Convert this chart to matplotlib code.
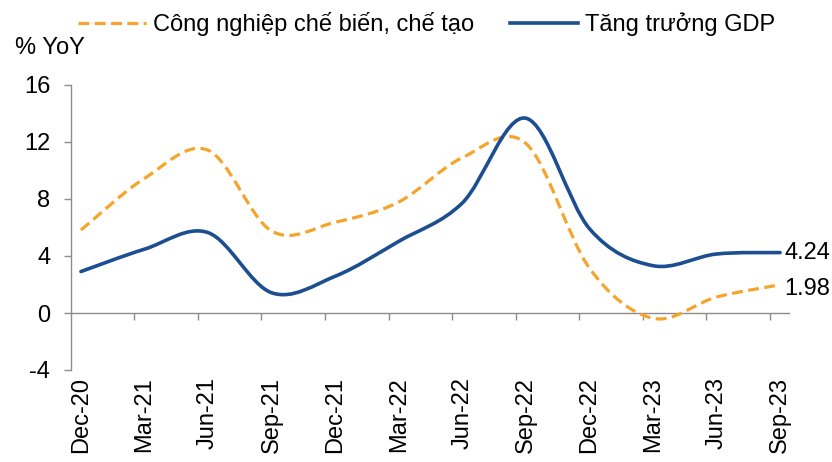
import numpy as np
import matplotlib
matplotlib.use("Agg")
import matplotlib.pyplot as plt
from matplotlib.path import Path
from matplotlib.patches import PathPatch
from matplotlib.lines import Line2D

quarters = ['Dec-20', 'Mar-21', 'Jun-21', 'Sep-21', 'Dec-21', 'Mar-22',
            'Jun-22', 'Sep-22', 'Dec-22', 'Mar-23', 'Jun-23', 'Sep-23']
manufacturing = [5.82, 9.45, 11.42, 5.75, 6.37, 7.79, 10.9, 11.9, 3.15, -0.37, 1.12, 1.98]
gdp = [2.91, 4.48, 5.64, 1.42, 2.58, 5.03, 7.72, 13.67, 5.92, 3.32, 4.14, 4.24]
names = ['Công nghiệp chế biến, chế tạo', 'Tăng trưởng GDP']
yticks = [-4, 0, 4, 8, 12, 16]

orange = '#F5A52C'
blue = '#1C4E91'
grey = '#8C8C8C'
fs = 17

plt.rcParams['font.family'] = ['Liberation Sans', 'DejaVu Sans']


def smooth_path(y):
    # excel-like smoothed line: cubic bezier with catmull-rom control points
    x = np.arange(len(y), dtype=float)
    y = np.asarray(y, dtype=float)
    verts = [(x[0], y[0])]
    codes = [Path.MOVETO]
    n = len(y)
    for i in range(n - 1):
        x0, y0 = (x[i - 1], y[i - 1]) if i > 0 else (x[i], y[i])
        x3, y3 = (x[i + 2], y[i + 2]) if i + 2 < n else (x[i + 1], y[i + 1])
        c1 = (x[i] + (x[i + 1] - x0) / 6, y[i] + (y[i + 1] - y0) / 6)
        c2 = (x[i + 1] - (x3 - x[i]) / 6, y[i + 1] - (y3 - y[i]) / 6)
        verts += [c1, c2, (x[i + 1], y[i + 1])]
        codes += [Path.CURVE4] * 3
    return Path(verts, codes)


fig = plt.figure(figsize=(8.32, 4.62), dpi=100)
ax = fig.add_axes([71 / 832, 1 - 370 / 462, 718 / 832, 285 / 462])

x = np.arange(len(quarters))
ax.add_patch(PathPatch(smooth_path(manufacturing), fill=False, edgecolor=orange,
                       linewidth=2.3, linestyle=(0, (3.4, 1.7)), capstyle='butt'))
ax.add_patch(PathPatch(smooth_path(gdp), fill=False, edgecolor=blue,
                       linewidth=2.6, capstyle='round'))

ax.set_xlim(-0.157, len(quarters) - 1 + 0.14)
ax.set_ylim(-4, 16)
ax.set_yticks(yticks)
ax.set_yticklabels([str(v) for v in yticks], fontsize=fs)
ax.tick_params(axis='y', length=5, width=1, color=grey, pad=10)

# category labels at bottom, no tick marks
ax.set_xticks(x)
ax.set_xticklabels(quarters, rotation=90, fontsize=fs, va='top', ha='center')
ax.tick_params(axis='x', length=0, pad=5)

for s in ['top', 'right', 'bottom']:
    ax.spines[s].set_visible(False)
ax.spines['left'].set_color(grey)
ax.spines['left'].set_linewidth(1)

# zero line axis with tick marks between categories
sec = ax.secondary_xaxis(4 / 20)
sec.set_xticks(x - 0.16)
sec.set_xticklabels([])
sec.tick_params(axis='x', length=5, width=1, color=grey, direction='out')
sec.spines['bottom'].set_color(grey)
sec.spines['bottom'].set_linewidth(1)

ax.annotate(f'{gdp[-1]:.2f}', (x[-1], gdp[-1]), xytext=(3, 0), textcoords='offset points',
            fontsize=fs, va='center', ha='left', annotation_clip=False)
ax.annotate(f'{manufacturing[-1]:.2f}', (x[-1], manufacturing[-1]), xytext=(3, -3),
            textcoords='offset points', fontsize=fs, va='center', ha='left',
            annotation_clip=False)

fig.text(15 / 832, 1 - 48 / 462, '% YoY', fontsize=fs, va='center', ha='left')

handles = [Line2D([], [], color=orange, linewidth=2.3, linestyle=(0, (3.4, 1.7))),
           Line2D([], [], color=blue, linewidth=2.6)]
fig.legend(handles, names, loc='center left', bbox_to_anchor=(78 / 832, 1 - 24 / 462),
           ncol=2, frameon=False, fontsize=fs, handlelength=2.9, handletextpad=0.28,
           columnspacing=1.5, borderaxespad=0, borderpad=0)

fig.savefig('out.png', dpi=100)
